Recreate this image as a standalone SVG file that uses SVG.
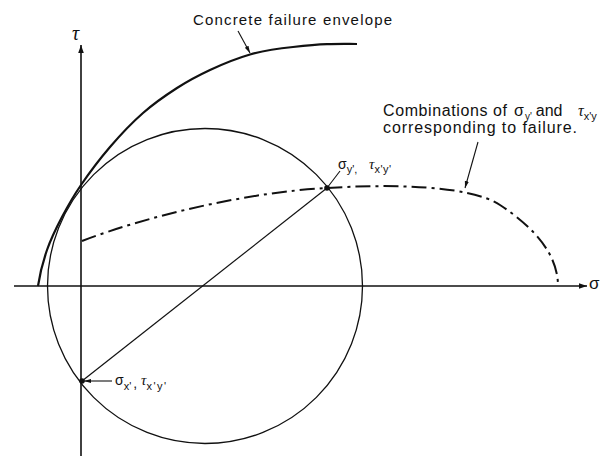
<svg xmlns="http://www.w3.org/2000/svg" width="613" height="456" viewBox="0 0 613 456">
<style>
text{font-family:"Liberation Sans","DejaVu Sans",sans-serif;fill:#111}
.lbl{font-size:14px}
.big{font-size:16px}
.sub{font-size:11px}
.tau{font-family:"Liberation Serif",serif;font-style:italic;font-size:15px}
.ln{fill:none;stroke:#111}
</style>
<defs>
<marker id="ah" viewBox="0 0 10 10" refX="10" refY="5" markerWidth="8" markerHeight="8" markerUnits="userSpaceOnUse" orient="auto"><path d="M0,1.5 L10,5 L0,8.5 Z" fill="#111"/></marker>
<marker id="ahs" viewBox="0 0 10 10" refX="10" refY="5" markerWidth="7" markerHeight="7" markerUnits="userSpaceOnUse" orient="auto"><path d="M0,2 L10,5 L0,8 Z" fill="#111"/></marker>
</defs>
<rect width="613" height="456" fill="#fff"/>
<g id="axes">
<line class="ln" x1="14" y1="286" x2="587" y2="286" stroke-width="1.4" marker-end="url(#ah)"/>
<line class="ln" x1="81" y1="456" x2="81" y2="45" stroke-width="1.6" marker-end="url(#ah)"/>
<text x="72" y="40" style="font-family:'Liberation Serif',serif;font-style:italic;font-size:20px">τ</text>
<text x="589" y="289" style="font-size:17px">σ</text>
</g>
<g id="mohr-circle">
<circle class="ln" cx="205" cy="286" r="157.5" stroke-width="1.3"/>
<line class="ln" x1="82" y1="381" x2="327" y2="188" stroke-width="1.2"/>
</g>
<g id="envelope">
<path class="ln" stroke-width="2.2" d="M38,286 C39.7,274.3 43,261.5 47,250 C51,238.5 56.3,227.8 62,217 C67.7,206.2 73,196.7 81,185 C89,173.3 99.7,159 110,147 C120.3,135 131.8,122.8 143,113 C154.2,103.2 165.8,95.2 177,88 C188.2,80.8 197.8,75.7 210,70 C222.2,64.3 236.2,58.5 250,54.5 C263.8,50.5 280.2,48.3 293,47 C305.8,45.6 316.3,44.6 327,44.2 C337.7,43.8 347,44 357,44"/>
</g>
<g id="failure-curve">
<path class="ln" stroke-width="2" stroke-dasharray="15 5 3 5" d="M82,241 C150,215 250,192 327,188 C390,184 470,185 500,205 C535,228 558,255 558,286"/>
</g>
<g id="points">
<circle cx="327" cy="188" r="2.8" fill="#111"/>
<circle cx="82" cy="381" r="2.8" fill="#111"/>
</g>
<g id="connectors">
<line class="ln" x1="238" y1="31" x2="250" y2="53" stroke-width="1.1" marker-end="url(#ahs)"/>
<line class="ln" x1="478" y1="142" x2="465" y2="188" stroke-width="1.1" marker-end="url(#ahs)"/>
<line class="ln" x1="112" y1="381" x2="84" y2="381" stroke-width="1.1" marker-end="url(#ahs)"/>
<line class="ln" x1="327" y1="188" x2="340" y2="171" stroke-width="1.1"/>
</g>
<g id="labels">
<text x="193" y="25" style="font-size:15px" textLength="199" lengthAdjust="spacing">Concrete failure envelope</text>
<text class="big" x="383" y="116" textLength="124" lengthAdjust="spacing">Combinations of</text>
<text class="big" x="514" y="116">σ<tspan class="sub" dx="1" dy="4" style="font-size:10px">y'</tspan><tspan dx="4" dy="-4">and</tspan></text>
<text class="tau" x="578" y="116" style="font-size:16px">τ<tspan class="sub" dy="4" style="font-family:'Liberation Sans',sans-serif;font-style:normal">x'y</tspan></text>
<text class="big" x="383" y="133" textLength="194" lengthAdjust="spacing">corresponding to failure.</text>
<text class="lbl" x="338" y="169">σ<tspan class="sub" dy="4">y',</tspan></text>
<text class="tau" x="369" y="169">τ<tspan class="sub" dy="4" style="font-family:'Liberation Sans',sans-serif;font-style:normal;letter-spacing:0.5px">x'y'</tspan></text>
<text class="lbl" x="115" y="385">σ<tspan class="sub" dy="5">x'</tspan><tspan dx="2" dy="-2">,</tspan></text>
<text class="tau" x="141" y="385">τ<tspan class="sub" dy="5" style="font-family:'Liberation Sans',sans-serif;font-style:normal;letter-spacing:1.5px">x'y'</tspan></text>
</g>
</svg>
